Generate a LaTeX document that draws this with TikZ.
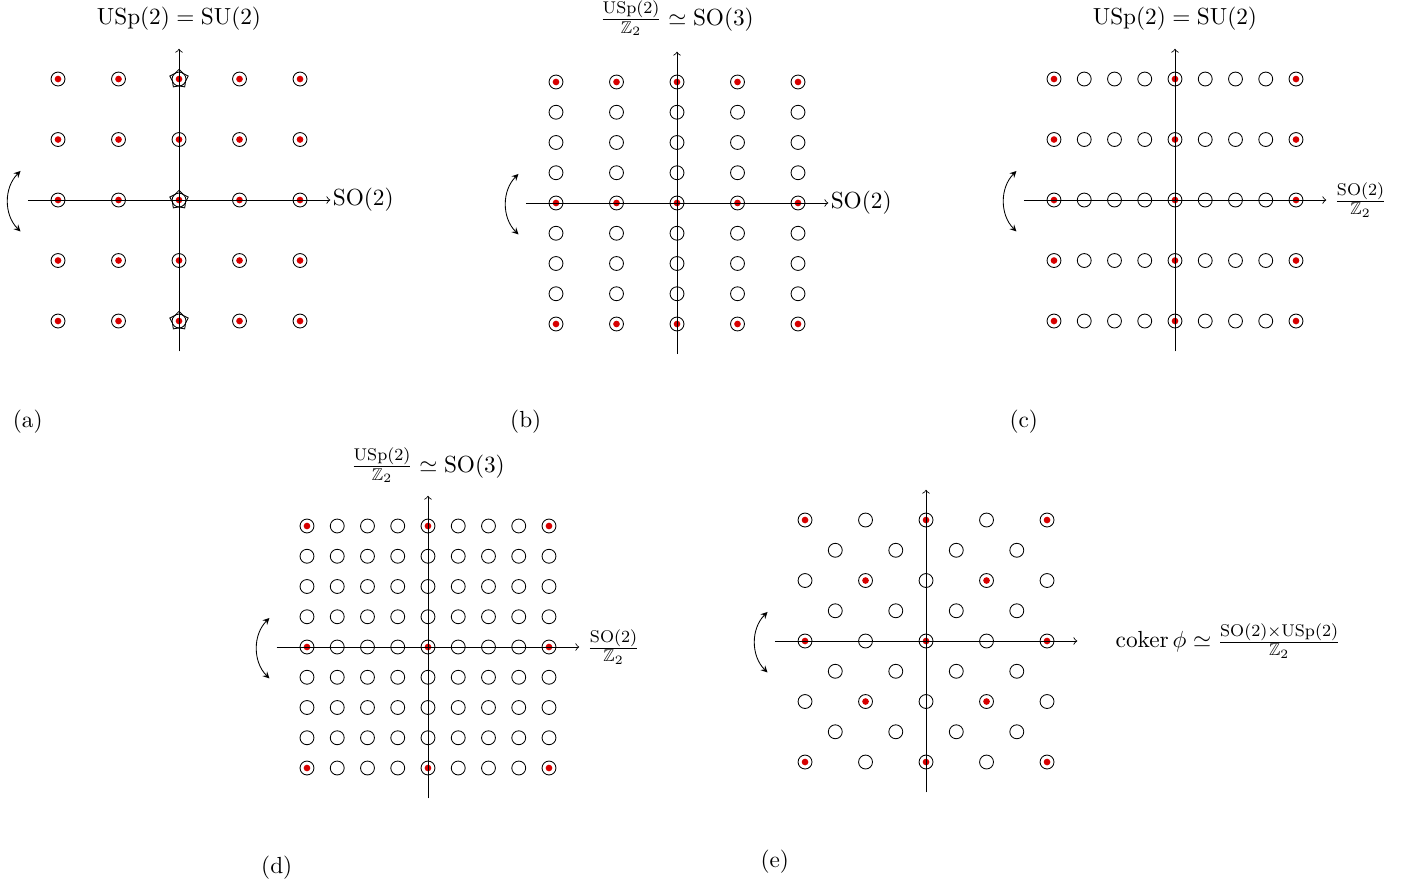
\documentclass[tikz,border=0pt,11pt]{standalone}
\usepackage{amsmath}
\usepackage{amssymb}
\usepackage{xcolor}
\usepackage{tikz}
\usetikzlibrary{shapes.geometric, arrows, positioning}
\definecolor{dotred}{RGB}{215,0,0}
\tikzstyle{axis}  = [->]
\tikzstyle{flip}  = [stealth-stealth, bend right=45]
\tikzset{every node/.style={align=center}}

\begin{document}
\begin{tikzpicture}[
    site/.style={circle, draw, minimum size=0.23cm, inner sep=0pt},
    charged/.style={site, path picture={\fill[dotred] (path picture bounding box.center) circle (0.055cm);}},
    pent/.style={star, star points=5, star point ratio=1.4, draw, minimum size=0.32cm, inner sep=0pt}
]
  \useasboundingbox (0,0) rectangle (23.256,-14.595);

  % --- (a): SU(2) lattice ---
  \begin{scope}[shift={(2.959,-3.306)}]
    \foreach \i in {-2,...,2}
      \foreach \j in {-2,...,2}
        \node[charged] (a-\i-\j) at (\i,\j) {};
    \node[pent] (aS1) at (0,2)  {};
    \node[pent] (aS0) at (0,0)  {};
    \node[pent] (aS2) at (0,-2) {};
    \coordinate (aW) at (-2.5,0);  \coordinate (aE) at (2.5,0);
    \coordinate (aS) at (0,-2.5);  \coordinate (aN) at (0,2.5);
    \draw[axis] (aW) -- (aE) node[right, inner sep=1pt] (aX) {$\mathrm{SO}(2)$};
    \draw[axis] (aS) -- (aN);
    \coordinate (aFt) at (-2.62,0.48); \coordinate (aFb) at (-2.62,-0.52);
    \draw[flip] (aFt) to (aFb);
    \node (aT) at (0,3.0)  {$\mathrm{USp}(2)=\mathrm{SU}(2)$};
    \node (aC) at (-2.5,-3.67) {(a)};
  \end{scope}

  % --- (b): SO(3) lattice ---
  \begin{scope}[shift={(11.190,-3.355)}]
    \foreach \i in {-2,...,2}
      \foreach \j in {-4,...,4} {
        \pgfmathtruncatemacro{\hot}{mod(\j+4,4)==0}
        \ifnum\hot=1
          \node[charged] (b-\i-\j) at (\i,\j*0.5) {};
        \else
          \node[site] (b-\i-\j) at (\i,\j*0.5) {};
        \fi
      }
    \coordinate (bW) at (-2.5,0);  \coordinate (bE) at (2.5,0);
    \coordinate (bS) at (0,-2.5);  \coordinate (bN) at (0,2.5);
    \draw[axis] (bW) -- (bE) node[right, inner sep=1pt] (bX) {$\mathrm{SO}(2)$};
    \draw[axis] (bS) -- (bN);
    \coordinate (bFt) at (-2.62,0.48); \coordinate (bFb) at (-2.62,-0.52);
    \draw[flip] (bFt) to (bFb);
    \node (bT) at (0,3.05) {$\frac{\mathrm{USp}(2)}{\mathbb{Z}_2}\simeq\mathrm{SO}(3)$};
    \node (bC) at (-2.5,-3.62) {(b)};
  \end{scope}

  % --- (c): SO(2)/Z2 lattice ---
  \begin{scope}[shift={(19.421,-3.306)}]
    \foreach \i in {-4,...,4}
      \foreach \j in {-2,...,2} {
        \pgfmathtruncatemacro{\hot}{mod(\i+4,4)==0}
        \ifnum\hot=1
          \node[charged] (c-\i-\j) at (\i*0.5,\j) {};
        \else
          \node[site] (c-\i-\j) at (\i*0.5,\j) {};
        \fi
      }
    \coordinate (cW) at (-2.5,0);  \coordinate (cE) at (2.5,0);
    \coordinate (cS) at (0,-2.5);  \coordinate (cN) at (0,2.5);
    \draw[axis] (cW) -- (cE) node[right] (cX) {$\frac{\mathrm{SO}(2)}{\mathbb{Z}_2}$};
    \draw[axis] (cS) -- (cN);
    \coordinate (cFt) at (-2.62,0.48); \coordinate (cFb) at (-2.62,-0.52);
    \draw[flip] (cFt) to (cFb);
    \node (cT) at (0,3.0)  {$\mathrm{USp}(2)=\mathrm{SU}(2)$};
    \node (cC) at (-2.5,-3.67) {(c)};
  \end{scope}

  % --- (d): both quotients ---
  \begin{scope}[shift={(7.074,-10.694)}]
    \foreach \i in {-4,...,4}
      \foreach \j in {-4,...,4} {
        \pgfmathtruncatemacro{\hot}{(mod(\i+4,4)==0)&&(mod(\j+4,4)==0)}
        \ifnum\hot=1
          \node[charged] (d-\i-\j) at (\i*0.5,\j*0.5) {};
        \else
          \node[site] (d-\i-\j) at (\i*0.5,\j*0.5) {};
        \fi
      }
    \coordinate (dW) at (-2.5,0);  \coordinate (dE) at (2.5,0);
    \coordinate (dS) at (0,-2.5);  \coordinate (dN) at (0,2.5);
    \draw[axis] (dW) -- (dE) node[right] (dX) {$\frac{\mathrm{SO}(2)}{\mathbb{Z}_2}$};
    \draw[axis] (dS) -- (dN);
    \coordinate (dFt) at (-2.62,0.48); \coordinate (dFb) at (-2.62,-0.52);
    \draw[flip] (dFt) to (dFb);
    \node (dT) at (0,3.0)  {$\frac{\mathrm{USp}(2)}{\mathbb{Z}_2}\simeq\mathrm{SO}(3)$};
    \node (dC) at (-2.5,-3.65) {(d)};
  \end{scope}

  % --- (e): coker phi lattice ---
  \begin{scope}[shift={(15.306,-10.595)}]
    \foreach \i in {-4,...,4}
      \foreach \j in {-4,...,4} {
        \pgfmathtruncatemacro{\odd}{mod(\i+\j+8,2)}
        \pgfmathtruncatemacro{\hot}{(mod(\i+4,2)==0)&&(mod(\i+\j+8,4)==0)}
        \ifnum\odd=0
          \ifnum\hot=1
            \node[charged] (e-\i-\j) at (\i*0.5,\j*0.5) {};
          \else
            \node[site] (e-\i-\j) at (\i*0.5,\j*0.5) {};
          \fi
        \fi
      }
    \coordinate (eW) at (-2.5,0);  \coordinate (eE) at (2.5,0);
    \coordinate (eS) at (0,-2.5);  \coordinate (eN) at (0,2.5);
    \draw[axis] (eW) -- (eE);
    \draw[axis] (eS) -- (eN);
    \coordinate (eFt) at (-2.62,0.48); \coordinate (eFb) at (-2.62,-0.52);
    \draw[flip] (eFt) to (eFb);
    \node[anchor=west] (eL) at (3.0,0)
      {$\operatorname{coker}\phi\simeq\frac{\mathrm{SO}(2)\times\mathrm{USp}(2)}{\mathbb{Z}_2}$};
    \node (eC) at (-2.5,-3.65) {(e)};
  \end{scope}
\end{tikzpicture}
\end{document}
